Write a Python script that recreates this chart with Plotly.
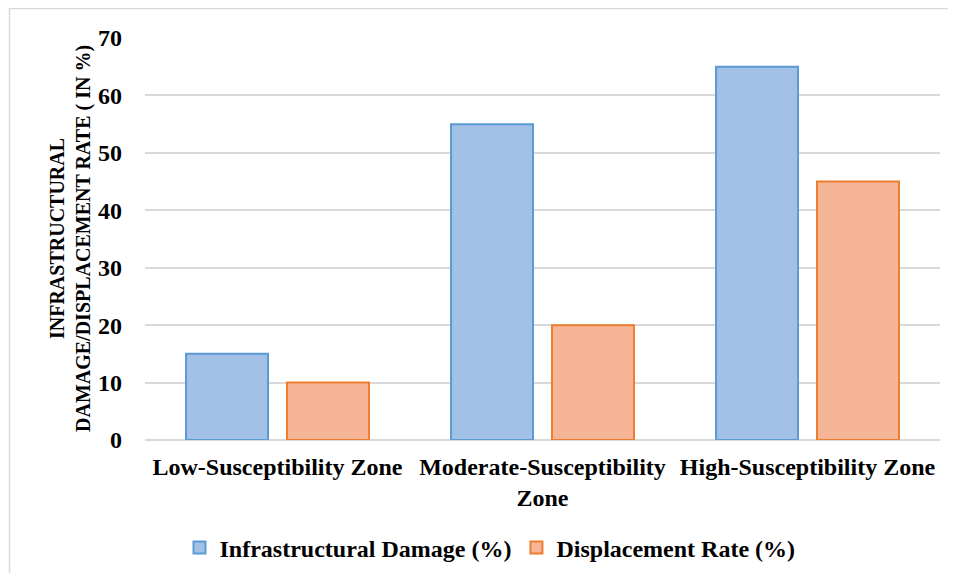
import plotly.graph_objects as go

categories = ["Low-Susceptibility Zone", "Moderate-Susceptibility<br>Zone", "High-Susceptibility Zone"]
infra_damage = [15, 55, 65]
displacement = [10, 20, 45]
y_ticks = [0, 10, 20, 30, 40, 50, 60, 70]

FONT = "Liberation Serif, Times New Roman, serif"

# page body has an 8px margin; figure sized to fit the window
W, H = 940, 565
L, T, R, B = 137, 30, 8, 133
PW, PH = W - L - R, H - T - B

fig = go.Figure()
fig.add_trace(go.Bar(
    name="Infrastructural Damage (%)", x=categories, y=infra_damage,
    marker=dict(color="#a3c0e6", line=dict(color="#5b9bd5", width=2)),
))
fig.add_trace(go.Bar(
    name="Displacement Rate (%)", x=categories, y=displacement,
    marker=dict(color="#f6b596", line=dict(color="#ed7d31", width=2)),
))

fig.update_layout(
    width=W, height=H,
    margin=dict(l=L, r=R, t=T, b=B, autoexpand=False),
    paper_bgcolor="white", plot_bgcolor="white",
    font=dict(family=FONT, size=24, color="black"),
    barmode="group", bargap=0.238, bargroupgap=0.188,
    showlegend=True,
    legend=dict(orientation="h", x=(490 - 8 - L) / PW, xanchor="center",
                y=(432 - 540) / PH, yanchor="middle",
                font=dict(family=FONT, size=24, color="black", weight="bold"),
                traceorder="normal"),
    xaxis=dict(showgrid=False, showline=False, zeroline=False, ticks="",
               tickfont=dict(family=FONT, size=24, color="black", weight="bold"),
               ticklabelstandoff=10),
    yaxis=dict(range=[0, 70], tickvals=y_ticks, showgrid=True, gridcolor="#d9d9d9", gridwidth=1.5,
               zeroline=True, zerolinecolor="#d9d9d9", zerolinewidth=1.5, showline=False, ticks="",
               tickfont=dict(family=FONT, size=24, color="black", weight="bold"),
               ticklabelstandoff=22),
)

fig.add_annotation(
    xref="paper", yref="paper", x=(70 - 8 - L) / PW, y=0.5,
    text="INFRASTRUCTURAL<br>DAMAGE/DISPLACEMENT RATE ( IN %)",
    textangle=-90, showarrow=False, xanchor="center", yanchor="middle",
    font=dict(family=FONT, size=20, color="black", weight="bold"),
)

fig.add_shape(type="rect", xref="paper", yref="paper",
              x0=(1.5 - L) / PW, x1=1.2, y0=-0.5, y1=(PH + T - 0.5) / PH,
              line=dict(color="#d9d9d9", width=1.5), fillcolor="rgba(0,0,0,0)", layer="below")

fig.write_html("out.html")
